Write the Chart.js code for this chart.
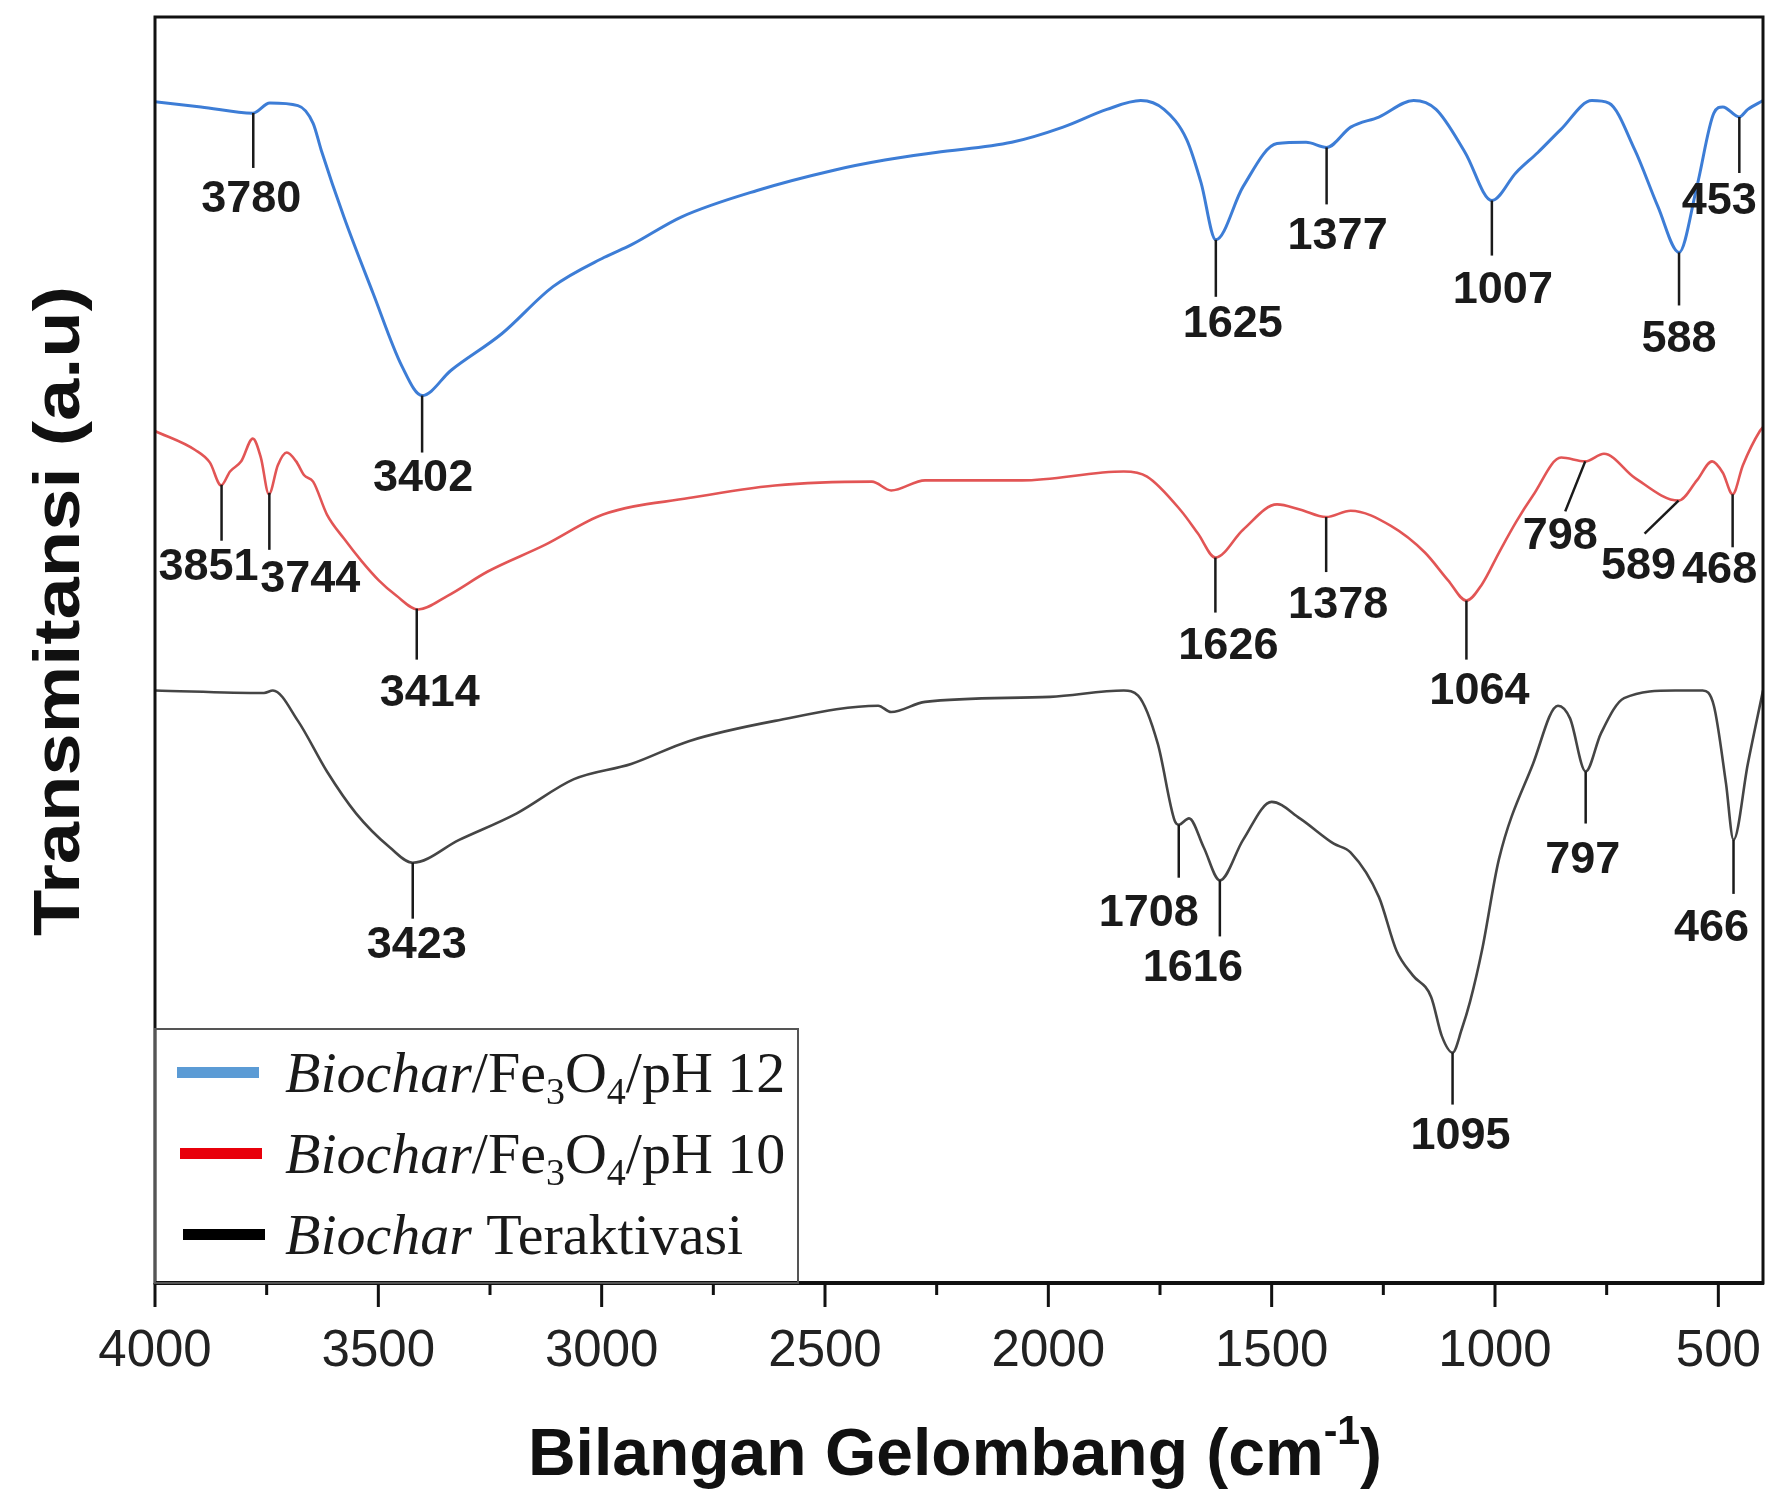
<!DOCTYPE html>
<html>
<head>
<meta charset="utf-8">
<script src="https://cdn.jsdelivr.net/npm/chart.js@4.4.0/dist/chart.umd.min.js"></script>
<style>
  html, body { margin: 0; padding: 0; background: #fff; }
  canvas { display: block; }
</style>
</head>
<body>
<canvas id="ftir" width="1770" height="1491"></canvas>
<script>
// FTIR spectra, wavenumber (cm-1) vs transmittance (a.u., curves offset)
var ph12Wn = [4000,3897,3781,3743,3680,3646,3628,3577,3512,3447,3402,3337,3223,3109,2995,2934,2822,2652,2480,2366,2252,2082,1967,1869,1793,1741,1690,1658,1625,1564,1488,1423,1377,1323,1260,1182,1132,1067,1007,953,904,853,783,745,687,635,588,548,510,490,453,434,400];
var ph12T  = [93.3,92.9,92.4,93.2,93.0,91.6,89.5,84.2,78.2,72.4,70.1,72.1,75.0,78.7,81.0,82.0,84.2,86.3,87.9,88.7,89.3,90.1,91.3,92.7,93.4,92.7,90.3,86.9,82.4,86.6,90.0,90.1,89.7,91.3,92.1,93.4,92.7,89.3,85.5,87.7,89.3,91.1,93.4,93.2,89.5,85.0,81.4,86.6,92.4,92.9,92.1,92.7,93.4];

var ph10Wn = [4000,3910,3877,3852,3832,3807,3781,3763,3745,3725,3705,3684,3666,3646,3615,3577,3537,3499,3460,3411,3344,3255,3127,2997,2805,2612,2395,2352,2276,2059,1831,1779,1703,1665,1626,1564,1488,1437,1378,1323,1233,1157,1105,1064,1029,991,953,915,852,798,756,687,589,548,514,490,468,445,407,400];
var ph10T  = [67.3,65.8,64.8,63.0,64.1,64.9,66.7,65.2,62.3,64.6,65.6,64.9,63.8,63.3,60.7,58.8,57.0,55.5,54.3,53.2,54.3,56.2,58.3,60.7,62.0,63.0,63.3,62.6,63.4,63.4,64.1,63.7,61.0,59.2,57.3,59.5,61.5,61.1,60.5,61.0,59.8,57.7,55.5,53.9,55.2,57.7,60.1,62.2,65.2,64.9,65.5,63.6,61.8,63.4,64.9,64.0,62.3,64.6,67.3,67.6];

var aktWn = [4000,3756,3736,3680,3615,3550,3474,3423,3319,3190,3062,2934,2805,2612,2381,2352,2276,1996,1831,1799,1755,1717,1708,1685,1652,1616,1564,1500,1437,1361,1323,1260,1220,1184,1143,1119,1095,1074,1056,1029,991,915,859,832,797,763,711,597,535,510,483,466,434,400];
var aktT  = [46.8,46.6,46.8,44.4,40.4,37.1,34.4,33.2,35.0,37.1,39.8,41.0,42.8,44.4,45.6,45.1,45.9,46.3,46.8,46.4,42.6,36.5,36.2,36.7,34.4,31.8,35.0,38.0,36.7,34.7,34.0,30.5,26.2,24.3,22.6,19.5,18.2,20.1,22.2,26.3,33.5,41.0,45.6,44.6,40.4,43.4,46.2,46.8,46.8,45.6,39.5,35.0,41.0,46.8];

var seriesNames = ['Biochar/Fe3O4/pH 12', 'Biochar/Fe3O4/pH 10', 'Biochar Teraktivasi'];
var xTicks = [4000, 3500, 3000, 2500, 2000, 1500, 1000, 500];
var xMinor = [3750, 3250, 2750, 2250, 1750, 1250, 750];

// labelled peaks: series index and wavenumber
var peakSeries = [0,0,0,0,0,0,0, 1,1,1,1,1,1,1,1,1, 2,2,2,2,2,2];
var peakWn = [3780,3402,1625,1377,1007,588,453, 3851,3744,3414,1626,1378,1064,798,589,468, 3423,1708,1616,1095,797,466];

// leader line / label placement: [line dx, line length, label dx, gap]
var peakPlace = [
  [0,55,-2,12],[0,57,1,6],[0,57,17,8],[0,57,11,13],[0,55,11,15],[0,53,0,15],[0,56,-20,9],
  [0,56,-13,7],[0,57,41,10],[0,51,13,14],[0,55,13,14],[0,55,12,14],[0,59,13,12],[-20,50,-25,6],[-34,33,-40,13],[0,53,-13,4],
  [0,56,4,7],[0,53,-30,16],[0,56,-27,13],[0,52,8,12],[0,52,-3,17],[0,54,-22,15]
];

var lineColors = ['#3d7dd6', '#e25555', '#454545'];
var keyColors = ['#5b9bd5', '#e8000b', '#000000'];
var legendParts = [
  [['Biochar','i'],['/Fe',''],['3','sub'],['O',''],['4','sub'],['/pH 12','']],
  [['Biochar','i'],['/Fe',''],['3','sub'],['O',''],['4','sub'],['/pH 10','']],
  [['Biochar','i'],[' Teraktivasi','']]
];

function pts(wn, t) {
  return wn.map(function (w, i) { return { x: w, y: t[i] }; });
}
var spectra = [[ph12Wn, ph12T], [ph10Wn, ph10T], [aktWn, aktT]];

function valueAt(s, w) {
  var wn = spectra[s][0], t = spectra[s][1];
  for (var i = 0; i < wn.length - 1; i++) {
    if (w <= wn[i] && w >= wn[i + 1]) {
      var f = (wn[i] - w) / (wn[i] - wn[i + 1]);
      return t[i] + f * (t[i + 1] - t[i]);
    }
  }
  return t[t.length - 1];
}

var decor = {
  id: 'decor',
  afterDraw: function (chart) {
    var ctx = chart.ctx, a = chart.chartArea;
    var sx = chart.scales.x, sy = chart.scales.y;
    ctx.save();

    // frame
    ctx.strokeStyle = '#111';
    ctx.lineWidth = 3;
    ctx.strokeRect(a.left, a.top, a.right - a.left, a.bottom - a.top);
    ctx.lineWidth = 4;
    ctx.beginPath();
    ctx.moveTo(a.left - 1, a.bottom);
    ctx.lineTo(a.right + 1, a.bottom);
    ctx.stroke();

    // ticks
    ctx.lineWidth = 3;
    ctx.beginPath();
    xTicks.forEach(function (v) {
      var px = sx.getPixelForValue(v);
      ctx.moveTo(px, a.bottom);
      ctx.lineTo(px, a.bottom + 24);
    });
    xMinor.forEach(function (v) {
      var px = sx.getPixelForValue(v);
      ctx.moveTo(px, a.bottom);
      ctx.lineTo(px, a.bottom + 12);
    });
    ctx.stroke();

    // peak labels
    ctx.strokeStyle = '#1a1a1a';
    ctx.fillStyle = '#1a1a1a';
    ctx.lineWidth = 2.5;
    ctx.font = 'bold 45px "Liberation Sans", Arial, sans-serif';
    ctx.textAlign = 'center';
    ctx.textBaseline = 'alphabetic';
    peakWn.forEach(function (w, i) {
      var p = peakPlace[i];
      var x0 = sx.getPixelForValue(w);
      var y0 = sy.getPixelForValue(valueAt(peakSeries[i], w));
      var x1 = x0 + p[0], y1 = y0 + p[1];
      ctx.beginPath();
      ctx.moveTo(x0, y0);
      ctx.lineTo(x1, y1);
      ctx.stroke();
      ctx.fillText(String(w), x0 + p[2], y1 + p[3] + 32);
    });

    // legend
    var lx = a.left, ly = a.bottom - 254, lw = 643, lh = 254;
    ctx.fillStyle = '#fff';
    ctx.fillRect(lx + 2, ly, lw, lh - 2);
    ctx.strokeStyle = '#555';
    ctx.lineWidth = 2;
    ctx.strokeRect(lx, ly, lw, lh);
    ctx.textAlign = 'left';
    seriesNames.forEach(function (name, i) {
      var cy = ly + 43 + i * 81;
      ctx.fillStyle = keyColors[i];
      ctx.fillRect(lx + 22 + i * 3, cy - 5, 82, 11);
      var tx = lx + 130;
      ctx.fillStyle = '#1a1a1a';
      legendParts[i].forEach(function (part) {
        var dy = 0;
        if (part[1] === 'i') ctx.font = 'italic 58px "Liberation Serif", "Times New Roman", serif';
        else if (part[1] === 'sub') { ctx.font = '38px "Liberation Serif", "Times New Roman", serif'; dy = 12; }
        else ctx.font = '58px "Liberation Serif", "Times New Roman", serif';
        ctx.fillText(part[0], tx, cy + 20 + dy);
        tx += ctx.measureText(part[0]).width;
      });
    });

    // x title with superscript
    ctx.fillStyle = '#111';
    var big = 'bold 66px "Liberation Sans", Arial, sans-serif';
    var sup = 'bold 41px "Liberation Sans", Arial, sans-serif';
    ctx.font = big;
    var w1 = ctx.measureText('Bilangan Gelombang (cm').width;
    var w3 = ctx.measureText(')').width;
    ctx.font = sup;
    var w2 = ctx.measureText('-1').width;
    var start = 955 - (w1 + w2 + w3) / 2, base = 1475;
    ctx.font = big;
    ctx.fillText('Bilangan Gelombang (cm', start, base);
    ctx.font = sup;
    ctx.fillText('-1', start + w1, base - 31);
    ctx.font = big;
    ctx.fillText(')', start + w1 + w2, base);

    // y title
    ctx.save();
    ctx.translate(79, 611);
    ctx.rotate(-Math.PI / 2);
    ctx.font = 'bold 64px "Liberation Sans", Arial, sans-serif';
    ctx.textAlign = 'center';
    var yt = 'Transmitansi (a.u)';
    var yw = ctx.measureText(yt).width;
    ctx.scale(650 / yw, 1);
    ctx.fillText(yt, 0, 0);
    ctx.restore();

    ctx.restore();
  }
};

new Chart(document.getElementById('ftir').getContext('2d'), {
  type: 'line',
  data: {
    datasets: spectra.map(function (s, i) {
      return {
        label: seriesNames[i],
        data: pts(s[0], s[1]),
        borderColor: lineColors[i],
        borderWidth: i === 0 ? 3 : 2.6,
        pointRadius: 0,
        fill: false,
        cubicInterpolationMode: 'monotone'
      };
    })
  },
  options: {
    responsive: false,
    animation: false,
    layout: { padding: { left: 155, right: 7, top: 17, bottom: 0 } },
    plugins: { legend: { display: false }, tooltip: { enabled: false } },
    scales: {
      x: {
        type: 'linear',
        reverse: true,
        min: 400,
        max: 4000,
        grid: { display: false },
        border: { display: false },
        afterBuildTicks: function (scale) {
          scale.ticks = xTicks.map(function (v) { return { value: v }; });
        },
        afterFit: function (scale) {
          scale.height = 208;
          scale.paddingLeft = 0;
          scale.paddingRight = 0;
        },
        ticks: {
          autoSkip: false,
          maxRotation: 0,
          padding: 30,
          color: '#222',
          font: { family: '"Liberation Sans", Arial, sans-serif', size: 51 },
          callback: function (v) { return String(v); }
        }
      },
      y: { display: false, min: 0, max: 100 }
    }
  },
  plugins: [decor]
});
</script>
</body>
</html>
